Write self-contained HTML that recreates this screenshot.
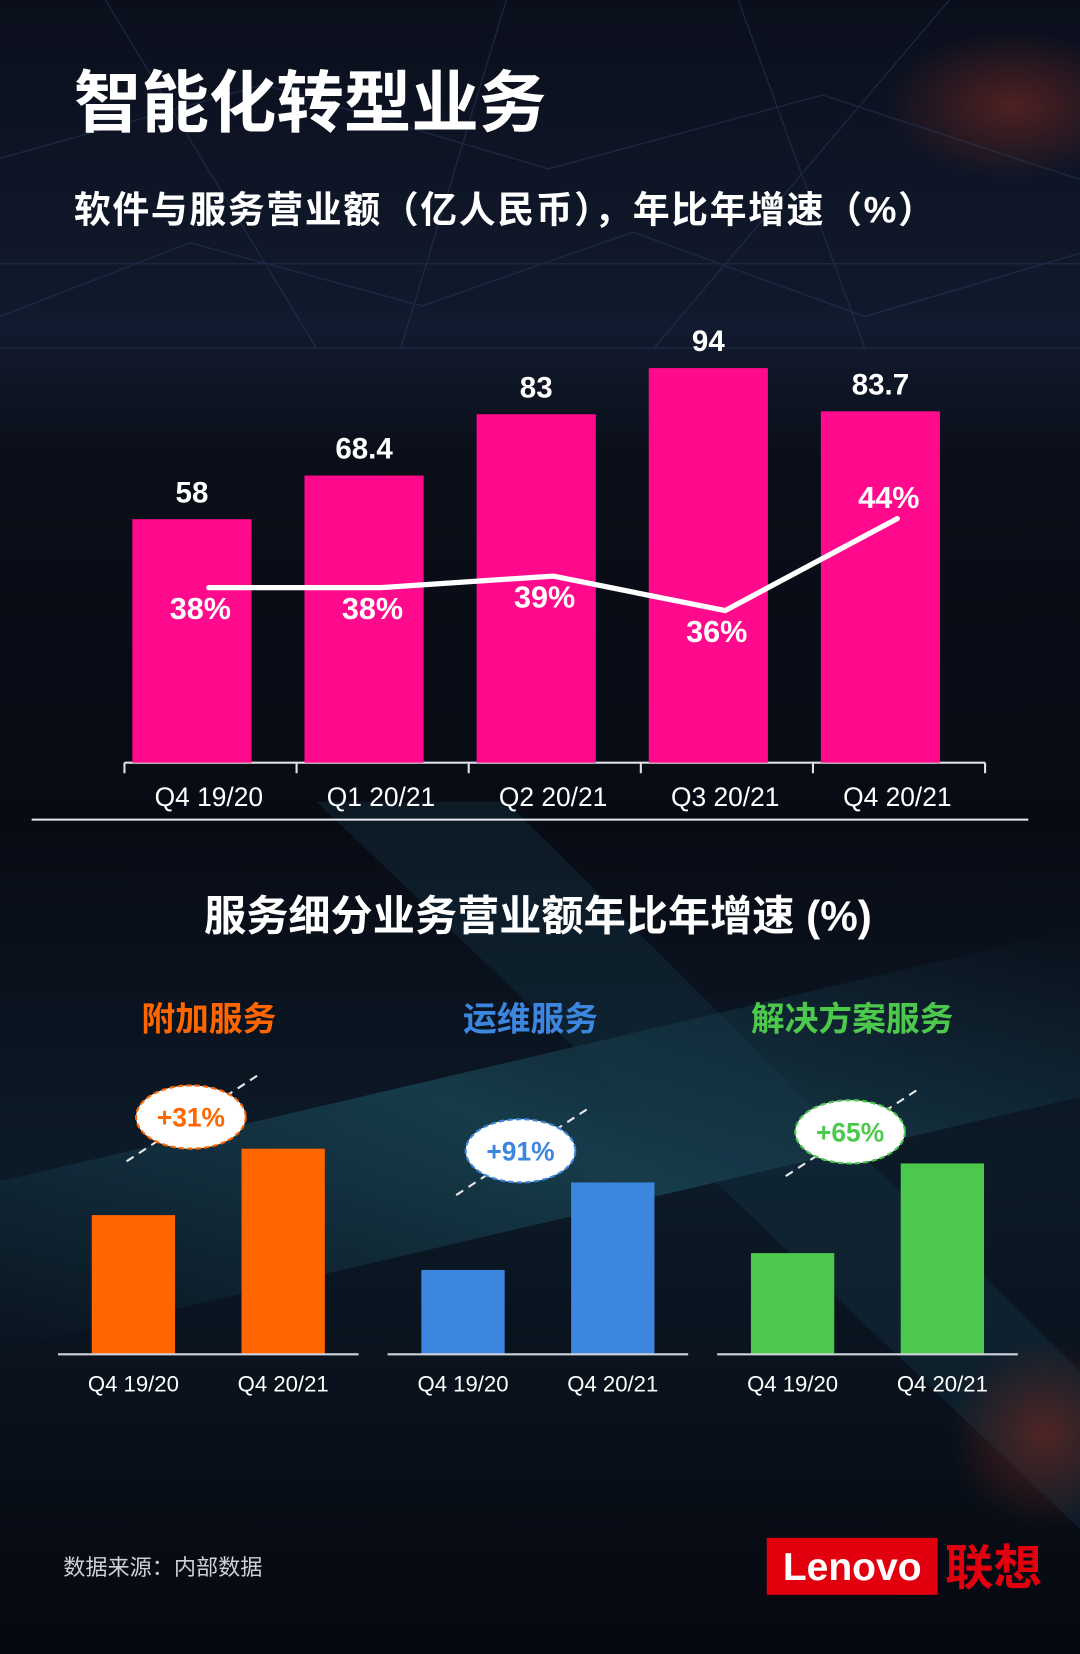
<!DOCTYPE html>
<html><head><meta charset="utf-8"><style>
html,body{margin:0;padding:0;background:#070a14;}
svg{display:block;}
text{font-family:"Liberation Sans","Noto Sans CJK SC",sans-serif;}
</style></head><body>
<svg id="chart" width="1080" height="1654" viewBox="0 0 1024 1568" xmlns="http://www.w3.org/2000/svg">
<defs>
<linearGradient id="bgG" x1="0" y1="0" x2="0" y2="1">
<stop offset="0" stop-color="#0b0f1c"/><stop offset="0.2" stop-color="#111a2e"/><stop offset="0.28" stop-color="#0a0e18"/>
<stop offset="0.5" stop-color="#080b14"/><stop offset="0.7" stop-color="#0c1a28"/><stop offset="1" stop-color="#06080f"/>
</linearGradient>
<linearGradient id="beam" x1="0" y1="1" x2="1" y2="0">
<stop offset="0" stop-color="#1b4a5e" stop-opacity="0"/><stop offset="0.5" stop-color="#1f5866" stop-opacity="0.55"/><stop offset="1" stop-color="#1b4a5e" stop-opacity="0"/>
</linearGradient>
<radialGradient id="glowR"><stop offset="0" stop-color="#7a2a20" stop-opacity="0.6"/><stop offset="1" stop-color="#7a2a20" stop-opacity="0"/></radialGradient>
</defs>
<rect x="0" y="0" width="1024" height="1568" fill="url(#bgG)"/>
<polygon points="0,1280 0,1120 1024,880 1024,1040" fill="url(#beam)"/>
<polygon points="300,760 480,760 1024,1300 1024,1450" fill="#17384a" opacity="0.35"/>
<ellipse cx="960" cy="100" rx="120" ry="70" fill="url(#glowR)"/>
<ellipse cx="990" cy="1360" rx="90" ry="90" fill="url(#glowR)"/>
<g stroke="#2a3a5c" stroke-width="1.2" opacity="0.55" fill="none">
<path d="M0,150 L250,80 L520,160 L780,90 L1024,170"/>
<path d="M0,300 L180,230 L400,290 L600,220 L820,300 L1024,240"/>
<path d="M0,250 L1024,250 M0,330 L1024,330"/>
<path d="M100,0 L300,330 M480,0 L380,330 M700,0 L820,330 M900,0 L620,330"/>
</g>

<text x="70" y="120" font-size="64" font-weight="bold" fill="#fff">智能化转型业务</text>
<text x="70" y="211" font-size="35" font-weight="bold" fill="#fff" letter-spacing="1.5">软件与服务营业额（亿人民币），年比年增速（%）</text>

<g id="topG">
<line x1="118" y1="723" x2="934" y2="723" stroke="#e0e0e8" stroke-width="2"/>
<line x1="118" y1="723" x2="118" y2="733" stroke="#e0e0e8" stroke-width="2"/>
<line x1="281.2" y1="723" x2="281.2" y2="733" stroke="#e0e0e8" stroke-width="2"/>
<line x1="444.4" y1="723" x2="444.4" y2="733" stroke="#e0e0e8" stroke-width="2"/>
<line x1="607.6" y1="723" x2="607.6" y2="733" stroke="#e0e0e8" stroke-width="2"/>
<line x1="770.8" y1="723" x2="770.8" y2="733" stroke="#e0e0e8" stroke-width="2"/>
<line x1="934" y1="723" x2="934" y2="733" stroke="#e0e0e8" stroke-width="2"/>
<rect x="125.5" y="492.2" width="113" height="230.8" fill="#ff0a8c"/>
<rect x="288.7" y="450.8" width="113" height="272.2" fill="#ff0a8c"/>
<rect x="451.9" y="392.7" width="113" height="330.3" fill="#ff0a8c"/>
<rect x="615.1" y="348.9" width="113" height="374.1" fill="#ff0a8c"/>
<rect x="778.3" y="389.9" width="113" height="333.1" fill="#ff0a8c"/>
<text x="182" y="476" text-anchor="middle" font-size="28" font-weight="bold" fill="#fff">58</text>
<text x="345.2" y="435" text-anchor="middle" font-size="28" font-weight="bold" fill="#fff">68.4</text>
<text x="508.4" y="377" text-anchor="middle" font-size="28" font-weight="bold" fill="#fff">83</text>
<text x="671.6" y="333" text-anchor="middle" font-size="28" font-weight="bold" fill="#fff">94</text>
<text x="834.8" y="374" text-anchor="middle" font-size="28" font-weight="bold" fill="#fff">83.7</text>
<text x="198" y="764" text-anchor="middle" font-size="25" fill="#fff">Q4 19/20</text>
<text x="361.2" y="764" text-anchor="middle" font-size="25" fill="#fff">Q1 20/21</text>
<text x="524.4" y="764" text-anchor="middle" font-size="25" fill="#fff">Q2 20/21</text>
<text x="687.6" y="764" text-anchor="middle" font-size="25" fill="#fff">Q3 20/21</text>
<text x="850.8" y="764" text-anchor="middle" font-size="25" fill="#fff">Q4 20/21</text>
<polyline points="198,557 361.2,557 524.4,546.1 687.6,578.8 850.8,491.6" fill="none" stroke="#fff" stroke-width="5" stroke-linejoin="round" stroke-linecap="round"/>
<text x="190" y="587" text-anchor="middle" font-size="29" font-weight="bold" fill="#fff">38%</text>
<text x="353.2" y="587" text-anchor="middle" font-size="29" font-weight="bold" fill="#fff">38%</text>
<text x="516.4" y="576" text-anchor="middle" font-size="29" font-weight="bold" fill="#fff">39%</text>
<text x="679.6" y="609" text-anchor="middle" font-size="29" font-weight="bold" fill="#fff">36%</text>
<text x="842.8" y="482" text-anchor="middle" font-size="29" font-weight="bold" fill="#fff">44%</text>
</g>
<line x1="30" y1="777" x2="975" y2="777" stroke="#e8e8f0" stroke-width="2"/>

<text x="510" y="882" text-anchor="middle" font-size="40" font-weight="bold" fill="#fff">服务细分业务营业额年比年增速 (%)</text>

<g id="small">
<g>
<text x="198" y="977" text-anchor="middle" font-size="32" font-weight="bold" fill="#ff6600">附加服务</text>
<rect x="87" y="1152" width="79" height="132" fill="#ff6600"/>
<rect x="229" y="1089" width="79" height="195" fill="#ff6600"/>
<text x="126.5" y="1319" text-anchor="middle" font-size="21" fill="#fff">Q4 19/20</text>
<text x="268.5" y="1319" text-anchor="middle" font-size="21" fill="#fff">Q4 20/21</text>
<line x1="55" y1="1284" x2="340" y2="1284" stroke="#cfd4dc" stroke-width="2"/>
<line x1="120" y1="1101" x2="245" y2="1019" stroke="#e8e8e8" stroke-width="2" stroke-dasharray="8,6"/>
<ellipse cx="181" cy="1059" rx="52" ry="30" fill="#fff" stroke="#ff6600" stroke-width="2" stroke-dasharray="5,3"/>
<text x="181" y="1068" text-anchor="middle" font-size="25" font-weight="bold" fill="#ff6600">+31%</text>
</g>
<g>
<text x="503" y="977" text-anchor="middle" font-size="32" font-weight="bold" fill="#3d86e0">运维服务</text>
<rect x="399.5" y="1204" width="79" height="80" fill="#3d86e0"/>
<rect x="541.5" y="1121" width="79" height="163" fill="#3d86e0"/>
<text x="439" y="1319" text-anchor="middle" font-size="21" fill="#fff">Q4 19/20</text>
<text x="581" y="1319" text-anchor="middle" font-size="21" fill="#fff">Q4 20/21</text>
<line x1="367.5" y1="1284" x2="652.5" y2="1284" stroke="#cfd4dc" stroke-width="2"/>
<line x1="432.5" y1="1133" x2="557.5" y2="1051" stroke="#e8e8e8" stroke-width="2" stroke-dasharray="8,6"/>
<ellipse cx="493.5" cy="1091" rx="52" ry="30" fill="#fff" stroke="#3d86e0" stroke-width="2" stroke-dasharray="5,3"/>
<text x="493.5" y="1100" text-anchor="middle" font-size="25" font-weight="bold" fill="#3d86e0">+91%</text>
</g>
<g>
<text x="808" y="977" text-anchor="middle" font-size="32" font-weight="bold" fill="#4cc94c">解决方案服务</text>
<rect x="712" y="1188" width="79" height="96" fill="#4cc94c"/>
<rect x="854" y="1103" width="79" height="181" fill="#4cc94c"/>
<text x="751.5" y="1319" text-anchor="middle" font-size="21" fill="#fff">Q4 19/20</text>
<text x="893.5" y="1319" text-anchor="middle" font-size="21" fill="#fff">Q4 20/21</text>
<line x1="680" y1="1284" x2="965" y2="1284" stroke="#cfd4dc" stroke-width="2"/>
<line x1="745" y1="1115" x2="870" y2="1033" stroke="#e8e8e8" stroke-width="2" stroke-dasharray="8,6"/>
<ellipse cx="806" cy="1073" rx="52" ry="30" fill="#fff" stroke="#4cc94c" stroke-width="2" stroke-dasharray="5,3"/>
<text x="806" y="1082" text-anchor="middle" font-size="25" font-weight="bold" fill="#4cc94c">+65%</text>
</g>
</g>

<text x="60" y="1493" font-size="21" fill="#d0d0d8">数据来源：内部数据</text>
<g>
<rect x="727" y="1458" width="162" height="54" fill="#e2000f"/>
<text x="808" y="1498" text-anchor="middle" font-size="37" font-weight="bold" fill="#fff">Lenovo</text>
<text x="896" y="1502" font-size="46" font-weight="bold" fill="#e2000f">联想</text>
</g>
</svg>
<script>
var categories = ["Q4 19/20","Q1 20/21","Q2 20/21","Q3 20/21","Q4 20/21"];
var revenue = [58, 68.4, 83, 94, 83.7];
var revenueLabels = ["58","68.4","83","94","83.7"];
var growth = [38, 38, 39, 36, 44];
var growthLabels = ["38%","38%","39%","36%","44%"];

var segNames = ["附加服务","运维服务","解决方案服务"];
var segColors = ["#ff6600","#3d86e0","#4cc94c"];
var segCategories = ["Q4 19/20","Q4 20/21"];
var segPrev = [132, 80, 96];
var segCurr = [195, 163, 181];
var segGrowthLabels = ["+31%","+91%","+65%"];

(function(){
var NS = "http://www.w3.org/2000/svg";
function mk(tag, attrs, parent, txt){
  var e = document.createElementNS(NS, tag);
  for (var k in attrs) e.setAttribute(k, attrs[k]);
  if (txt !== undefined) e.textContent = txt;
  parent.appendChild(e); return e;
}
var base = 723, left = 118, step = 163.2, barW = 113;
function xC(i){ return left + step*i + 64; }
function yV(v){ return base - v*3.98; }
function yP(p){ return 557 - (p-38)*10.9; }
var tg = document.getElementById('topG');
while (tg.firstChild) tg.removeChild(tg.firstChild);
var ax = mk('line',{x1:left,y1:base,x2:left+step*5,y2:base,stroke:'#e0e0e8','stroke-width':2},tg);


for (var i=0;i<=5;i++){
  var t = mk('line',{x1:left+step*i,y1:base,x2:left+step*i,y2:base+10,stroke:'#e0e0e8','stroke-width':2},tg);
  
  
}
for (var i=0;i<categories.length;i++){
  var b = mk('rect',{x:xC(i)-barW/2,y:yV(revenue[i]),width:barW,height:base-yV(revenue[i]),fill:'#ff0a8c'},tg);
  
  
  var l = mk('text',{x:xC(i),y:yV(revenue[i])-16,'text-anchor':'middle','font-size':28,'font-weight':'bold',fill:'#fff'},tg,revenueLabels[i]);
  
  
  var c = mk('text',{x:xC(i)+16,y:764,'text-anchor':'middle','font-size':25,fill:'#fff'},tg,categories[i]);
  
  
}
var pts = [];
for (var i=0;i<growth.length;i++) pts.push((xC(i)+16)+','+yP(growth[i]));
var ln = mk('polyline',{points:pts.join(' '),fill:'none',stroke:'#fff','stroke-width':5,'stroke-linejoin':'round','stroke-linecap':'round'},tg);


for (var i=0;i<growth.length;i++){
  var above = i>0 && growth[i] > growth[i-1]+3;
  var ty = above ? yP(growth[i])-10 : yP(growth[i])+30;
  var g = mk('text',{x:xC(i)+8,y:ty,'text-anchor':'middle','font-size':29,'font-weight':'bold',fill:'#fff'},tg,growthLabels[i]);
  
  
}
var sm = document.getElementById('small');
while (sm.firstChild) sm.removeChild(sm.firstChild);
var sBase = 1284, sW = 79;
var titleX = [198, 503, 808];
function ySeg(v){ return sBase - v; }
for (var s=0;s<segNames.length;s++){
  var ox = 55 + s*312.5;
  var grp = mk('g',{},sm);
  
  
  var tt = mk('text',{x:titleX[s],y:977,'text-anchor':'middle','font-size':32,'font-weight':'bold',fill:segColors[s]},grp,segNames[s]);
  
  
  var x1 = ox+32, x2 = ox+174;
  var vals = [segPrev[s], segCurr[s]];
  for (var j=0;j<2;j++){
    var bx = j==0?x1:x2;
    var r = mk('rect',{x:bx,y:ySeg(vals[j]),width:sW,height:vals[j],fill:segColors[s]},grp);
    
    
    var cl = mk('text',{x:bx+sW/2,y:1319,'text-anchor':'middle','font-size':21,fill:'#fff'},grp,segCategories[j]);
    
    
  }
  var bl = mk('line',{x1:ox,y1:sBase,x2:ox+285,y2:sBase,stroke:'#cfd4dc','stroke-width':2},grp);
  
  
  var ecx = ox+126, ecy = ySeg(vals[1])-30;
  var dl = mk('line',{x1:ox+65,y1:ecy+42,x2:ox+190,y2:ecy-40,stroke:'#e8e8e8','stroke-width':2,'stroke-dasharray':'8,6'},grp);
  
  
  var el = mk('ellipse',{cx:ecx,cy:ecy,rx:52,ry:30,fill:'#fff',stroke:segColors[s],'stroke-width':2,'stroke-dasharray':'5,3'},grp);
  
  
  var et = mk('text',{x:ecx,y:ecy+9,'text-anchor':'middle','font-size':25,'font-weight':'bold',fill:segColors[s]},grp,segGrowthLabels[s]);
  
  
}
})();
</script>
</body></html>
